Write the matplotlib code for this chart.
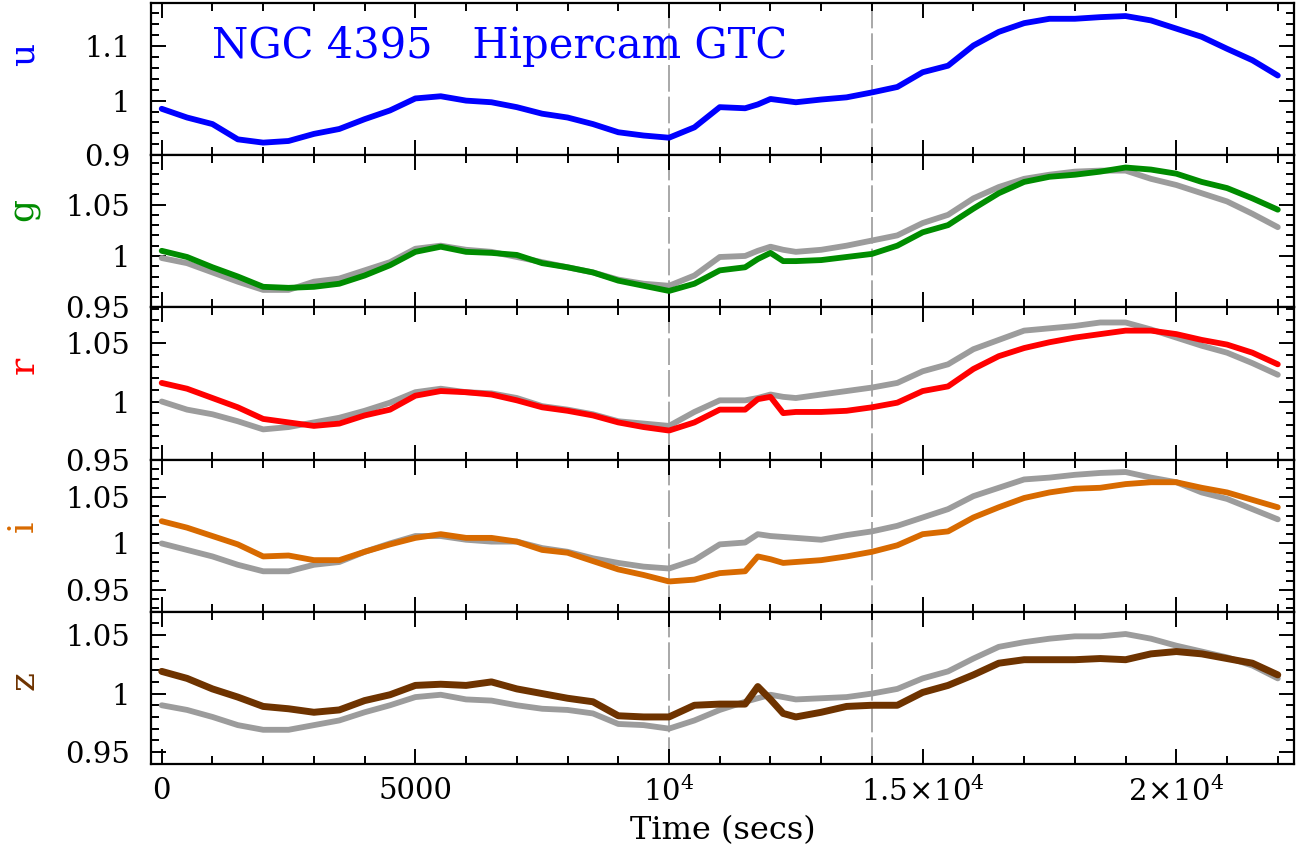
import numpy as np
import matplotlib
matplotlib.use("Agg")
import matplotlib.pyplot as plt
from matplotlib.ticker import MultipleLocator

plt.rcParams['font.family'] = ['DejaVu Serif']
plt.rcParams['mathtext.fontset'] = 'dejavuserif'

t = [0, 500, 1000, 1500, 2000, 2500, 3000, 3500, 4000, 4500, 5000, 5500,
     6000, 6500, 7000, 7500, 8000, 8500, 9000, 9500, 10000, 10500, 11000,
     11500, 11750, 12000, 12250, 12500, 13000, 13500, 14000, 14500, 15000,
     15500, 16000, 16500, 17000, 17500, 18000, 18500, 19000, 19500, 20000,
     20500, 21000, 21500, 22000]

u_flux = [0.985, 0.969, 0.957, 0.929, 0.923, 0.926, 0.939, 0.948, 0.966, 0.982,
          1.004, 1.008, 1.000, 0.997, 0.988, 0.976, 0.969, 0.957, 0.942, 0.936,
          0.932, 0.951, 0.988, 0.986, 0.993, 1.003, 1.000, 0.997, 1.002, 1.006,
          1.015, 1.025, 1.052, 1.064, 1.101, 1.126, 1.142, 1.150, 1.150, 1.153,
          1.155, 1.147, 1.132, 1.117, 1.095, 1.074, 1.046]

g_flux = [1.005, 0.999, 0.989, 0.980, 0.970, 0.969, 0.970, 0.973, 0.981, 0.991,
          1.004, 1.009, 1.004, 1.003, 1.001, 0.993, 0.989, 0.984, 0.976, 0.971,
          0.966, 0.973, 0.986, 0.989, 0.997, 1.003, 0.995, 0.995, 0.996, 0.999,
          1.002, 1.010, 1.023, 1.030, 1.046, 1.061, 1.072, 1.077, 1.079, 1.082,
          1.086, 1.084, 1.080, 1.072, 1.066, 1.056, 1.045]
g_ref = [0.998, 0.993, 0.984, 0.975, 0.967, 0.967, 0.975, 0.978, 0.986, 0.994,
         1.007, 1.010, 1.006, 1.004, 0.999, 0.994, 0.989, 0.984, 0.977, 0.973,
         0.971, 0.981, 0.999, 1.000, 1.005, 1.009, 1.006, 1.004, 1.006, 1.010,
         1.015, 1.020, 1.032, 1.040, 1.056, 1.067, 1.075, 1.079, 1.082, 1.083,
         1.083, 1.075, 1.069, 1.061, 1.053, 1.041, 1.028]

r_flux = [1.016, 1.011, 1.003, 0.995, 0.985, 0.982, 0.979, 0.981, 0.988, 0.993,
          1.005, 1.009, 1.008, 1.006, 1.001, 0.995, 0.992, 0.988, 0.982, 0.978,
          0.975, 0.982, 0.993, 0.993, 1.002, 1.004, 0.990, 0.991, 0.991, 0.992,
          0.995, 0.999, 1.009, 1.013, 1.028, 1.039, 1.046, 1.051, 1.055, 1.058,
          1.061, 1.061, 1.058, 1.053, 1.049, 1.042, 1.032]
r_ref = [1.000, 0.993, 0.989, 0.983, 0.976, 0.978, 0.982, 0.986, 0.992, 0.999,
         1.008, 1.011, 1.008, 1.007, 1.003, 0.996, 0.993, 0.989, 0.983, 0.981,
         0.979, 0.991, 1.001, 1.001, 1.003, 1.006, 1.004, 1.003, 1.006, 1.009,
         1.012, 1.016, 1.026, 1.032, 1.045, 1.053, 1.061, 1.063, 1.065, 1.068,
         1.068, 1.062, 1.055, 1.048, 1.042, 1.033, 1.023]

i_flux = [1.024, 1.017, 1.008, 0.999, 0.986, 0.987, 0.982, 0.982, 0.991, 0.999,
          1.006, 1.010, 1.006, 1.006, 1.002, 0.993, 0.990, 0.981, 0.972, 0.966,
          0.959, 0.961, 0.968, 0.970, 0.986, 0.983, 0.979, 0.980, 0.982, 0.986,
          0.991, 0.998, 1.010, 1.013, 1.028, 1.039, 1.049, 1.055, 1.059, 1.060,
          1.064, 1.066, 1.066, 1.060, 1.055, 1.047, 1.039]
i_ref = [1.000, 0.993, 0.986, 0.977, 0.970, 0.970, 0.977, 0.980, 0.991, 1.000,
         1.008, 1.008, 1.004, 1.002, 1.002, 0.995, 0.991, 0.984, 0.979, 0.975,
         0.973, 0.982, 0.999, 1.001, 1.010, 1.008, 1.007, 1.006, 1.004, 1.009,
         1.013, 1.019, 1.028, 1.037, 1.051, 1.060, 1.069, 1.071, 1.074, 1.076,
         1.077, 1.071, 1.066, 1.055, 1.048, 1.037, 1.026]

z_flux = [1.019, 1.013, 1.004, 0.997, 0.989, 0.987, 0.984, 0.986, 0.994, 0.999,
          1.007, 1.008, 1.007, 1.010, 1.004, 1.000, 0.996, 0.993, 0.981, 0.980,
          0.980, 0.990, 0.991, 0.991, 1.006, 0.995, 0.983, 0.980, 0.984, 0.989,
          0.990, 0.990, 1.001, 1.007, 1.016, 1.026, 1.029, 1.029, 1.029, 1.030,
          1.029, 1.034, 1.036, 1.034, 1.030, 1.026, 1.016]
z_ref = [0.990, 0.986, 0.980, 0.973, 0.969, 0.969, 0.973, 0.977, 0.984, 0.990,
         0.997, 0.999, 0.995, 0.994, 0.990, 0.987, 0.986, 0.983, 0.974, 0.973,
         0.970, 0.977, 0.986, 0.993, 0.996, 0.999, 0.997, 0.995, 0.996, 0.997,
         1.000, 1.004, 1.013, 1.019, 1.030, 1.040, 1.044, 1.047, 1.049, 1.049,
         1.051, 1.047, 1.041, 1.036, 1.031, 1.024, 1.013]

bands = ['u', 'g', 'r', 'i', 'z']
colours = ['#0000ff', '#008c00', '#ff0000', '#d86a00', '#6e3300']
fluxes = [u_flux, g_flux, r_flux, i_flux, z_flux]
refs = [None, g_ref, r_ref, i_ref, z_ref]
ylims = [(0.9, 1.179), (0.95, 1.098), (0.95, 1.081), (0.9263, 1.0904), (0.9397, 1.070)]
yticks = [[0.9, 1.0, 1.1], [0.95, 1.0, 1.05], [0.95, 1.0, 1.05],
          [0.95, 1.0, 1.05], [0.95, 1.0, 1.05]]
ytick_labels = [['0.9', '1', '1.1']] + [['0.95', '1', '1.05']] * 4
yminor = [0.02, 0.01, 0.01, 0.01, 0.01]
label_y = [0.66, 0.64, 0.62, 0.56, 0.55]

xticks = [0, 5000, 10000, 15000, 20000]
xtick_labels = ['0', '5000', r'$10^{4}$', r'$1.5\!\times\!10^{4}$', r'$2\!\times\!10^{4}$']
markers_t = [10000, 14000]

fig, axes = plt.subplots(5, 1, figsize=(13, 8.46), dpi=100, sharex=True,
                         gridspec_kw={'hspace': 0})
fig.subplots_adjust(left=0.1162, right=0.9954, top=0.9965, bottom=0.0969)

for k, ax in enumerate(axes):
    for tm in markers_t:
        ax.axvline(tm, color='#999999', lw=1.2, dashes=(16, 3), zorder=1)
    if refs[k] is not None:
        ax.plot(t, refs[k], color='#9c9c9c', lw=4.2, solid_capstyle='round',
                solid_joinstyle='round', zorder=2)
    lw = 5.0 if bands[k] == 'z' else 4.2
    ax.plot(t, fluxes[k], color=colours[k], lw=lw, solid_capstyle='round',
            solid_joinstyle='round', zorder=3)

    ax.set_xlim(-210, 22320)
    ax.set_ylim(*ylims[k])
    ax.set_yticks(yticks[k])
    ax.set_yticklabels(ytick_labels[k])
    ax.yaxis.set_minor_locator(MultipleLocator(yminor[k]))
    ax.xaxis.set_major_locator(MultipleLocator(5000))
    ax.xaxis.set_minor_locator(MultipleLocator(1000))
    ax.tick_params(which='both', direction='in', top=True, right=True, width=1.4)
    ax.tick_params(which='major', length=11, labelsize=21)
    ax.tick_params(axis='y', which='major', pad=15)
    ax.tick_params(axis='x', which='major', pad=9)
    ax.tick_params(which='minor', length=6)
    for sp in ax.spines.values():
        sp.set_linewidth(1.6)
    ax.set_ylabel(bands[k], color=colours[k], fontsize=26)
    ax.yaxis.set_label_coords(-0.097, label_y[k])

axes[-1].set_xticks(xticks)
axes[-1].set_xticklabels(xtick_labels)
axes[-1].set_xlabel('Time (secs)', fontsize=23, labelpad=6)

axes[0].text(1000, 1.101, 'NGC 4395   Hipercam GTC', color='#0000ff',
             fontsize=30, va='center', ha='left')

fig.savefig('out.png', dpi=100)
